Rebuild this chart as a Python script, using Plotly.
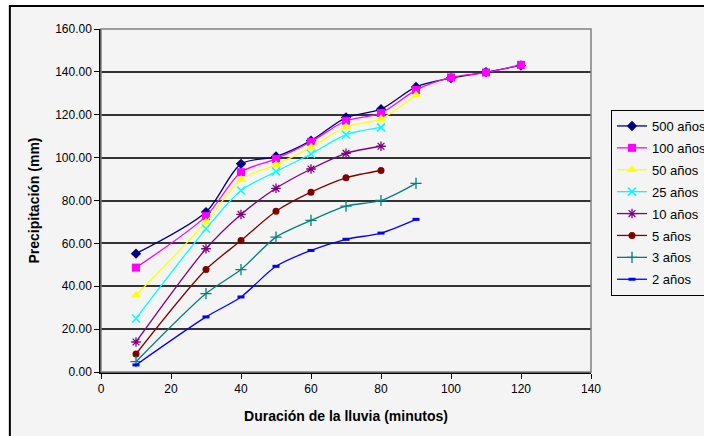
import plotly.graph_objects as go

# Duración de la lluvia (minutos)
duracion = [10, 30, 40, 50, 60, 70, 80, 90, 100, 110, 120]

# Precipitación (mm) por período de retorno
p500 = [55.2, 74.6, 97.1, 100.5, 107.9, 118.7, 122.6, 133.0, 137.1, 139.9, 143.0]
p100 = [48.7, 72.7, 93.2, 99.4, 107.4, 117.2, 120.8, 131.5, 137.4, 139.7, 143.3]
p50 = [35.8, 69.9, 89.8, 96.7, 104.8, 114.4, 118.1, 129.2]
p25 = [25.0, 66.8, 84.7, 93.5, 101.7, 110.7, 114.1]
p10 = [14.0, 57.5, 73.5, 85.7, 94.7, 102.0, 105.3]
p5 = [8.4, 47.8, 61.3, 75.0, 83.9, 90.6, 94.0]
p3 = [4.8, 36.6, 47.8, 62.9, 70.7, 77.4, 80.0, 88.0]
p2 = [3.3, 25.7, 35.0, 49.3, 56.7, 61.9, 64.8, 71.2]

nombres = ["500 años", "100 años", "50 años", "25 años", "10 años", "5 años", "3 años", "2 años"]
series = [p500, p100, p50, p25, p10, p5, p3, p2]

estilos = [
    dict(color="#000080", symbol="diamond", size=8, lw=0),
    dict(color="#FF00FF", symbol="square", size=8, lw=0),
    dict(color="#FFFF00", symbol="triangle-up", size=9, lw=0),
    dict(color="#00FFFF", symbol="x-thin-open", size=8, lw=1.5),
    dict(color="#800080", symbol="asterisk-open", size=8, lw=1.3),
    dict(color="#800000", symbol="circle", size=7, lw=0),
    dict(color="#008080", symbol="cross-thin-open", size=8, lw=1.3),
    dict(color="#0000FF", symbol="line-ew-open", size=5, lw=3),
]

fig = go.Figure()
for nombre, valores, st in zip(nombres, series, estilos):
    fig.add_trace(go.Scatter(
        x=duracion[:len(valores)], y=valores, name=nombre,
        mode="lines+markers", legendgroup=nombre,
        line=dict(color=st["color"], width=1.3, shape="spline", smoothing=0.8),
        marker=dict(symbol=st["symbol"], size=st["size"], color=st["color"],
                    line=dict(color=st["color"], width=st["lw"])),
    ))

# Marco exterior y borde del área de trazado
fig.add_shape(type="rect", xref="paper", yref="paper",
              x0=-0.186, x1=1.4, y0=-0.4, y1=1.067,
              line=dict(color="black", width=2), fillcolor="#F4F4F4", layer="below")
fig.add_shape(type="rect", xref="paper", yref="paper",
              x0=0, x1=1, y0=0, y1=1,
              line=dict(color="#808080", width=1.5), fillcolor="rgba(0,0,0,0)", layer="above")

fig.update_layout(
    width=704, height=436,
    margin=dict(l=101, r=113, t=29, b=64, autoexpand=False),
    paper_bgcolor="white", plot_bgcolor="#C0C0C0",
    font=dict(family="Liberation Sans, Arial, sans-serif", size=12, color="black"),
    showlegend=True,
    legend=dict(xref="container", yref="container",
                x=611 / 704, y=1 - 110 / 436, xanchor="left", yanchor="top",
                bgcolor="#F4F4F4", bordercolor="black", borderwidth=1,
                font=dict(size=13), traceorder="grouped", tracegroupgap=2,
                itemwidth=30),
)

fig.update_xaxes(
    range=[0, 140], tick0=0, dtick=20, showgrid=False, zeroline=False,
    showline=True, linecolor="black", linewidth=1.5,
    ticks="outside", ticklen=5, tickcolor="black",
    tickfont=dict(size=12),
    title=dict(text="<b>Duración de la lluvia (minutos)</b>", font=dict(size=14), standoff=16),
)
fig.update_yaxes(
    range=[0, 160], tick0=0, dtick=20, tickformat=".2f",
    showgrid=True, gridcolor="#333333", gridwidth=1.5, zeroline=False,
    showline=True, linecolor="black", linewidth=1.5,
    ticks="outside", ticklen=5, tickcolor="black",
    tickfont=dict(size=12),
    title=dict(text="<b>Precipitación (mm)</b>", font=dict(size=14), standoff=12),
)

fig.write_html("out.html")
